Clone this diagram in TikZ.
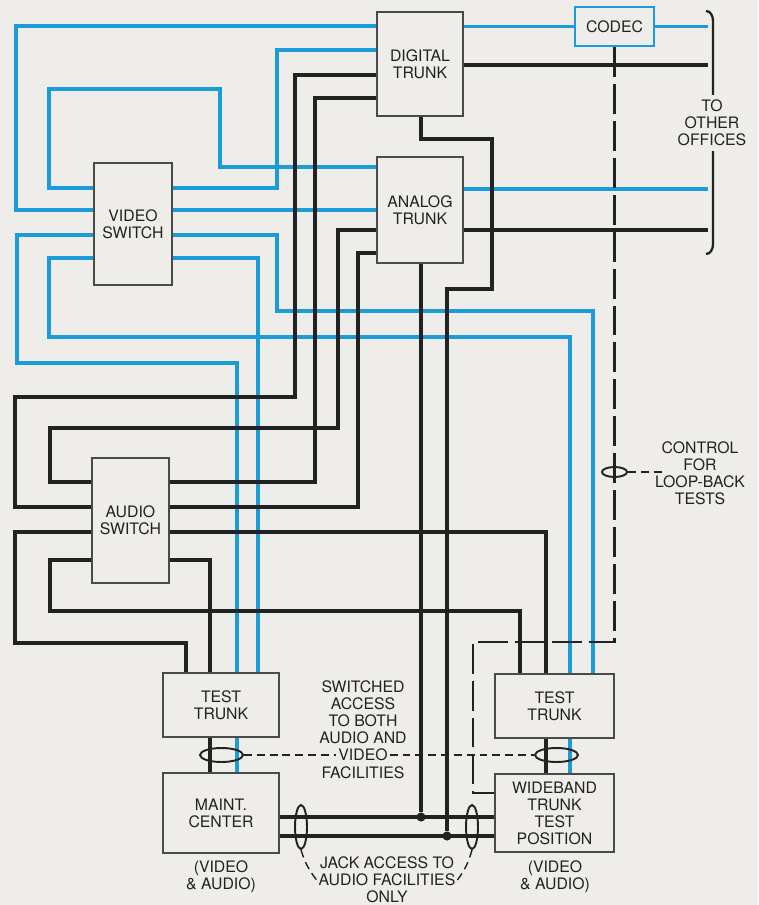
\documentclass[tikz,border=0pt]{standalone}
\usepackage{fontspec}
\setmainfont{TeX Gyre Heros}
\usetikzlibrary{shapes.geometric}
\definecolor{plantPaper}{HTML}{EEEDEA}
\definecolor{plantBlue}{HTML}{1B9BD7}
\definecolor{plantInk}{HTML}{222222}
\definecolor{plantBox}{HTML}{4A4A48}

\begin{document}
\begin{tikzpicture}[x=0.02cm, y=-0.02cm, font=\fontsize{9}{9.7}\selectfont,
  box/.style={draw=plantBox, line width=1.2pt, fill=plantPaper, align=center, inner sep=0pt, text=plantInk},
  vid/.style={draw=plantBlue, line width=2pt},
  aud/.style={draw=plantInk, line width=1.85pt},
  ctrl/.style={draw=plantInk, line width=1.6pt, dash pattern=on 17pt off 4pt},
  tap/.style={draw=plantInk, line width=0.8pt, dash pattern=on 4.5pt off 2.8pt},
  ring/.style={ellipse, draw=plantInk, line width=1.1pt, inner sep=0pt},
  dot/.style={circle, fill=plantInk, inner sep=0pt, minimum size=5.2pt},
  lbl/.style={align=center, text=plantInk, inner sep=1pt}]
  \fill[plantPaper] (0,0) rectangle (758,905);

  \node[box, minimum width=1.72cm, minimum height=2.08cm] (digital) at (420,64) {DIGITAL\\TRUNK};
  \node[box, draw=plantBlue, line width=1.5pt, minimum width=1.58cm, minimum height=0.78cm] (codec) at (614.5,26.5) {CODEC};
  \node[box, minimum width=1.72cm, minimum height=2.12cm] (analog) at (420,210) {ANALOG\\TRUNK};
  \node[box, minimum width=1.56cm, minimum height=2.44cm] (vswitch) at (133,224) {VIDEO\\SWITCH};
  \node[box, minimum width=1.54cm, minimum height=2.5cm] (aswitch) at (130.5,520.5) {AUDIO\\SWITCH};
  \node[box, minimum width=2.32cm, minimum height=1.28cm] (testL) at (221,705) {TEST\\TRUNK};
  \node[box, minimum width=2.32cm, minimum height=1.6cm] (maint) at (221,813) {MAINT.\\CENTER};
  \node[box, minimum width=2.38cm, minimum height=1.28cm] (testR) at (554.5,706) {TEST\\TRUNK};
  \node[box, minimum width=2.38cm, minimum height=1.56cm] (wideband) at (554.5,813) {WIDEBAND\\TRUNK\\TEST\\POSITION};

  \coordinate (outEdge) at (708,0);
  \coordinate (ctlEnd) at (666,472);
  \node[dot] (tapA) at (421,817) {};
  \node[dot] (tapB) at (447,836) {};

  \draw[vid] (digital.west |- 0,26) -| (16,210) -- (vswitch.west |- 0,210);
  \draw[vid] (digital.west |- 0,50) -| (277,188) -- (vswitch.east |- 0,188);
  \draw[vid] (analog.west |- 0,167) -| (220,89) -| (49,188) -- (vswitch.west |- 0,188);
  \draw[vid] (vswitch.east |- 0,210) -- (analog.west |- 0,210);
  \draw[vid] (vswitch.west |- 0,235) -| (17,363) -| (testL.north -| 237,0);
  \draw[vid] (vswitch.west |- 0,258) -| (49,337) -| (testR.north -| 570,0);
  \draw[vid] (vswitch.east |- 0,235) -| (277,311) -| (testR.north -| 593,0);
  \draw[vid] (vswitch.east |- 0,258) -| (testL.north -| 258,0);
  \draw[vid] (digital.east |- codec.west) -- (codec.west);
  \draw[vid] (codec.east) -- (codec.east -| outEdge);
  \draw[vid] (analog.east |- 0,189) -- (outEdge |- 0,189);
  \draw[vid] (testL.south -| 237,0) -- (maint.north -| 237,0);
  \draw[vid] (testR.south -| 570,0) -- (wideband.north -| 570,0);

  \draw[aud] (digital.east |- 0,65) -- (outEdge |- 0,65);
  \draw[aud] (analog.east |- 0,230) -- (outEdge |- 0,230);
  \draw[aud] (digital.south -| tapA) |- (492,139) |- (447,289) -- (tapB);
  \draw[aud] (analog.south -| tapA) -- (tapA);
  \draw[aud] (digital.west |- 0,75) -| (295,397) -| (15,507) -- (aswitch.west |- 0,507);
  \draw[aud] (digital.west |- 0,98) -| (315,482) -- (aswitch.east |- 0,482);
  \draw[aud] (analog.west |- 0,230) -| (338,428) -| (50,482) -- (aswitch.west |- 0,482);
  \draw[aud] (analog.west |- 0,253) -| (358,507) -- (aswitch.east |- 0,507);
  \draw[aud] (aswitch.east |- 0,532) -| (testR.north -| 546,0);
  \draw[aud] (aswitch.west |- 0,532) -| (15,643) -| (testL.north -| 186,0);
  \draw[aud] (aswitch.west |- 0,560) -| (50,611) -| (testR.north -| 520,0);
  \draw[aud] (aswitch.east |- 0,560) -| (testL.north -| 210,0);
  \draw[aud] (testL.south -| 210,0) -- (maint.north -| 210,0);
  \draw[aud] (testR.south -| 546,0) -- (wideband.north -| 546,0);
  \draw[aud] (maint.east |- tapA) -- (wideband.west |- tapA);
  \draw[aud] (maint.east |- tapB) -- (wideband.west |- tapB);

  \draw[ctrl] (codec.south) -- (codec.south |- 0,642) -| (473,793) -- (wideband.west |- 0,793);

  \draw[plantInk, line width=1.3pt] (706,11) to[out=0, in=90] (713,21) -- (713,244) to[out=-90, in=0] (706,254);
  \node[lbl, fill=plantPaper, inner sep=3pt] (offices) at (712,123) {TO\\OTHER\\OFFICES};

  \node[ring, minimum width=0.86cm, minimum height=0.28cm] (ringL) at (221.5,755) {};
  \node[ring, minimum width=0.86cm, minimum height=0.28cm] (ringR) at (556.5,755) {};
  \node[ring, minimum width=0.5cm, minimum height=0.2cm] (ringC) at (codec.south |- 0,472) {};
  \node[ring, minimum width=0.24cm, minimum height=0.88cm] (jackL) at (301,827) {};
  \node[ring, minimum width=0.24cm, minimum height=0.88cm] (jackR) at (472,827) {};

  \node[lbl] (control) at (700,473) {CONTROL\\FOR\\LOOP-BACK\\TESTS};
  \node[lbl] (swAccess) at (363,712) {SWITCHED\\ACCESS\\TO BOTH\\AUDIO AND};
  \node[lbl] (swVideo) at (363,755) {VIDEO};
  \node[lbl] (swFac) at (363,773) {FACILITIES};
  \node[lbl] (jack) at (387,880) {JACK ACCESS TO\\AUDIO FACILITIES\\ONLY};
  \node[lbl] (maintNote) at (221,877) {(VIDEO\\\& AUDIO)};
  \node[lbl] (wideNote) at (555,877) {(VIDEO\\\& AUDIO)};

  \draw[tap] (ringL.east) -- (swVideo.west);
  \draw[tap] (swVideo.east) -- (ringR.west);
  \draw[tap] (ringC.east) -- (ctlEnd);
  \draw[tap] (jackL.south) to[bend right=10] (jack.west);
  \draw[tap] (jackR.south) to[bend left=10] (jack.east);
\end{tikzpicture}
\end{document}
